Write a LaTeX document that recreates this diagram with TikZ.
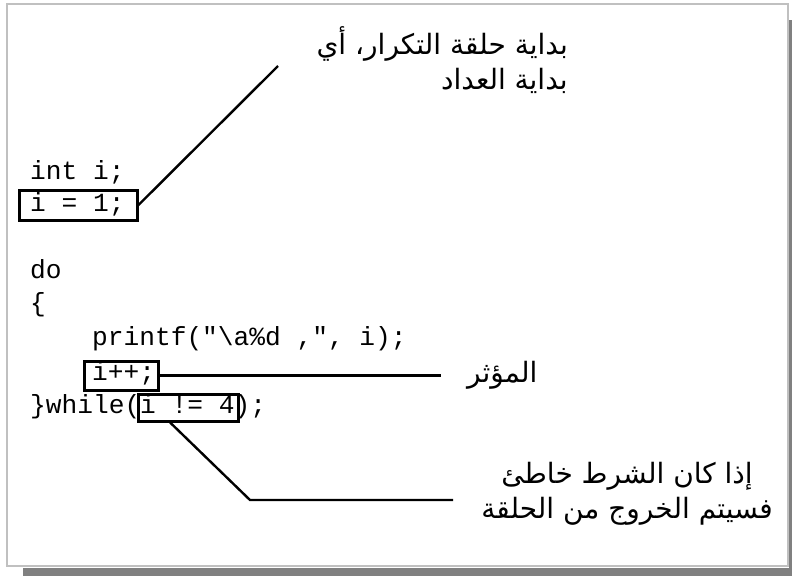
\documentclass[tikz,border=0pt]{standalone}
\usepackage{fontspec}
\setmonofont{Liberation Mono}
\newfontfamily\arabicfont[Script=Arabic]{DejaVu Sans}
\TeXXeTstate=1
\definecolor{framegray}{RGB}{192,192,192}
\definecolor{shadowgray}{RGB}{128,128,128}

\begin{document}
\begin{tikzpicture}[x=1pt,y=-1pt,
    code/.style={anchor=base west, inner sep=0pt, font=\ttfamily\fontsize{26.2}{33}\selectfont},
    box/.style={draw, line width=3pt, inner sep=0pt},
    note/.style={inner sep=0pt, font=\arabicfont\fontsize{28}{35}\selectfont},
    link/.style={line width=2.4pt}]

    \useasboundingbox (0,0) rectangle (792,576);
    \fill[white] (0,0) rectangle (792,576);
    \fill[shadowgray] (23,568) rectangle (792,576);
    \fill[shadowgray] (789,20) rectangle (792,576);
    \draw[framegray, line width=2pt] (7,4) rectangle (788,566);

    % the code
    \node[code] (decl) at (30,179) {int i;};
    \node[code] (initcode) at (30,211) {i = 1;};
    \node[code] (docode) at (30,278) {do};
    \node[code] (opencode) at (30,311) {\{};
    \node[code] (printcode) at (92,345) {printf("\textbackslash a\%d ,", i);};
    \node[code] (incrcode) at (92,380) {i++;};
    \node[code] (whilecode) at (30,413) {\}while(i != 4);};

    % the boxes
    \node[box, minimum width=118, minimum height=30] (init) at (78,205) {};
    \node[box, minimum width=74, minimum height=29] (incr) at (121,375.5) {};
    \node[box, minimum width=100, minimum height=27] (cond) at (188,407.5) {};

    % the notes
    \node[note, anchor=east, align=right] (initnote) at (568,60)
        {\beginR بداية حلقة التكرار، أي\endR\\\beginR بداية العداد\endR};
    \node[note, anchor=west] (incrnote) at (467,375) {\beginR المؤثر\endR};
    \node[note, align=center] (condnote) at (627,494)
        {\beginR إذا كان الشرط خاطئ\endR\\\beginR فسيتم الخروج من الحلقة\endR};

    \coordinate (initend) at (278,66);
    \coordinate (incrend) at (441,375.5);
    \coordinate (condbend) at (250,500);
    \coordinate (condend) at (453,500);

    \draw[link] (init.east) -- (initend);
    \draw[link] (incr.east) -- (incrend);
    \draw[link] (cond.220) -- (condbend) -- (condend);

\end{tikzpicture}
\end{document}
